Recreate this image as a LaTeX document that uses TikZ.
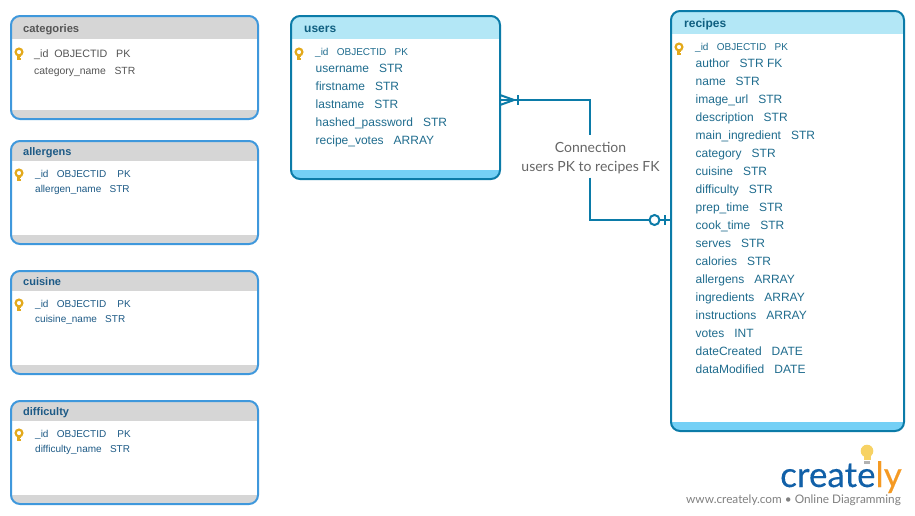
\documentclass[tikz,border=0pt]{standalone}
\usepackage{fontspec}
\setmainfont{Liberation Sans}
\newfontfamily\lato{Lato}
\newfontfamily\logofont[FakeBold=0.2]{Lato}
\definecolor{lightedge}{HTML}{3F98DC}
\definecolor{darkedge}{HTML}{0B7BA8}
\definecolor{greyband}{HTML}{D6D6D6}
\definecolor{cyanhead}{HTML}{B3E7F6}
\definecolor{cyanfoot}{HTML}{74D0F6}
\definecolor{headtext}{HTML}{0F5F80}
\definecolor{rowblue}{HTML}{1F6C8E}
\definecolor{greytext}{HTML}{555555}
\definecolor{navytext}{HTML}{1D5A86}
\definecolor{keygold}{HTML}{E3A91B}
\definecolor{logoblue}{HTML}{1160A8}
\definecolor{logoorange}{HTML}{F59A23}
\definecolor{bulbyellow}{HTML}{F7D264}
\definecolor{labelgrey}{HTML}{666666}
\newcommand{\keyicon}[2]{%
  \draw[keygold,line width=2.2pt] (#1,#2) circle (3.4);
  \fill[keygold] (#1-2,#2+3) rectangle (#1+2,#2+8);
  \fill[white] (#1+1,#2+5) rectangle (#1+2.2,#2+6);
}
\newcommand{\ertable}[9]{%
  \begin{scope}
    \clip[rounded corners=9] (#2,#3) rectangle (#4,#5);
    \fill[#8] (#2,#3) rectangle (#4,#6);
    \fill[#9] (#2,#7) rectangle (#4,#5);
  \end{scope}
}
\tikzset{
  x=1pt,y=-1pt,
  outlinebox/.style={draw=#1,line width=2pt,rounded corners=9,inner sep=0pt,outer sep=0pt,anchor=north west},
  titletext/.style={anchor=base west,inner sep=0pt,font=\bfseries\fontsize{12}{14}\selectfont},
  rowbig/.style={anchor=base west,inner sep=0pt,text=rowblue,font=\fontsize{12}{14}\selectfont},
  rowsmall/.style={anchor=base west,inner sep=0pt,text=rowblue,font=\fontsize{10}{12}\selectfont},
  leftrow/.style={anchor=base west,inner sep=0pt,text=navytext,font=\fontsize{10}{12}\selectfont},
  relation/.style={draw=darkedge,line width=2pt},
}
\begin{document}
\begin{tikzpicture}
\useasboundingbox (0,0) rectangle (915,515);
\fill[white] (0,0) rectangle (915,515);

% categories
\ertable{categories}{11}{16}{258}{119}{39}{110}{greyband}{greyband}
\node[outlinebox=lightedge,minimum width=247pt,minimum height=103pt] (categories) at (11,16) {};
\node[titletext,text=greytext,font=\bfseries\fontsize{11.2}{13}\selectfont] (categoriesT) at (23,32) {categories};
\keyicon{19}{52}
\node[leftrow,text=greytext,font=\fontsize{10.7}{13}\selectfont] (c1) at (34,57) {\_id~~OBJECTID~~~PK};
\node[leftrow,text=greytext,font=\fontsize{10.4}{13}\selectfont] (c2) at (34,74) {category\_name~~~STR};

% allergens
\ertable{allergens}{11}{141}{258}{244}{161}{235}{greyband}{greyband}
\node[outlinebox=lightedge,minimum width=247pt,minimum height=103pt] (allergens) at (11,141) {};
\node[titletext,text=navytext,font=\bfseries\fontsize{11}{13}\selectfont] (allergensT) at (23,155) {allergens};
\keyicon{19}{173}
\node[leftrow] (a1) at (35,177) {\_id~~~OBJECTID~~~~PK};
\node[leftrow] (a2) at (35,192) {allergen\_name~~~STR};

% cuisine
\ertable{cuisine}{11}{271}{258}{374}{291}{365}{greyband}{greyband}
\node[outlinebox=lightedge,minimum width=247pt,minimum height=103pt] (cuisine) at (11,271) {};
\node[titletext,text=navytext,font=\bfseries\fontsize{11}{13}\selectfont] (cuisineT) at (23,285) {cuisine};
\keyicon{19}{303}
\node[leftrow] (u1) at (35,307) {\_id~~~OBJECTID~~~~PK};
\node[leftrow] (u2) at (35,322) {cuisine\_name~~~STR};

% difficulty
\ertable{difficulty}{11}{401}{258}{504}{421}{495}{greyband}{greyband}
\node[outlinebox=lightedge,minimum width=247pt,minimum height=103pt] (difficulty) at (11,401) {};
\node[titletext,text=navytext,font=\bfseries\fontsize{11}{13}\selectfont] (difficultyT) at (23,415) {difficulty};
\keyicon{19}{433}
\node[leftrow] (d1) at (35,437) {\_id~~~OBJECTID~~~~PK};
\node[leftrow] (d2) at (35,452) {difficulty\_name~~~STR};

% users
\ertable{users}{291}{16}{500}{179}{39}{170}{cyanhead}{cyanfoot}
\node[outlinebox=darkedge,minimum width=209pt,minimum height=163pt] (users) at (291,16) {};
\node[titletext,text=headtext] (usersT) at (304,32) {users};
\keyicon{299}{52}
\node[rowsmall] (us0) at (315,55) {\_id~~~OBJECTID~~~PK};
\foreach \yy/\tt in {72/username~~~STR,90/firstname~~~STR,108/lastname~~~STR,126/hashed\_password~~~STR,144/recipe\_votes~~~ARRAY}
  \node[rowbig] at (315.5,\yy) {\tt};

% recipes
\ertable{recipes}{671}{11}{904}{431}{34}{422}{cyanhead}{cyanfoot}
\node[outlinebox=darkedge,minimum width=233pt,minimum height=420pt] (recipes) at (671,11) {};
\node[titletext,text=headtext] (recipesT) at (684,27) {recipes};
\keyicon{679}{47}
\node[rowsmall] (re0) at (695,50) {\_id~~~OBJECTID~~~PK};
\foreach \yy/\tt in {67/author~~~STR FK,85/name~~~STR,103/image\_url~~~STR,121/description~~~STR,139/main\_ingredient~~~STR,157/category~~~STR,175/cuisine~~~STR,193/difficulty~~~STR,211/prep\_time~~~STR,229/cook\_time~~~STR,247/serves~~~STR,265/calories~~~STR,283/allergens~~~ARRAY,301/ingredients~~~ARRAY,319/instructions~~~ARRAY,337/votes~~~INT,355/dateCreated~~~DATE,373/dataModified~~~DATE}
  \node[rowbig] at (695.5,\yy) {\tt};

% connector
\coordinate (usersPort) at (users.east |- 0,100);
\coordinate (recipesPort) at (recipes.west |- 0,220);
\coordinate (bendA) at (590,100);
\coordinate (bendB) at (590,220);
\node[inner sep=0pt,align=center,text=labelgrey,font=\lato\fontsize{14}{19}\selectfont] (connLabel) at (590.5,158.5) {Connection\\users PK to recipes FK};
\draw[relation] (usersPort) -- (bendA) -- ([yshift=7pt]connLabel.north -| bendA);
\draw[relation] ([yshift=-3pt]connLabel.south -| bendA) -- (bendB) -- (recipesPort);
\draw[relation] ([yshift=-5pt]usersPort) -- (514,100) -- ([yshift=5pt]usersPort);
\draw[relation] (517.5,95) -- (517.5,105);
\draw[relation] (664.5,215) -- (664.5,225);
\draw[relation,fill=white] (654.5,220) circle (5);

% logo
\node[anchor=base east,inner sep=0pt,font=\logofont\fontsize{35}{40}\selectfont] (logo) at (902,487) {\textcolor{logoblue}{create}\textcolor{logoorange}{ly}};
\fill[bulbyellow] (867,451) circle (6.3);
\fill[bulbyellow] (863.5,454) rectangle (870.5,460);
\fill[gray!60] (864,460.5) rectangle (870,463.5);
\node[anchor=base east,inner sep=0pt,text=gray,font=\lato\fontsize{11.8}{13}\selectfont] (tagline) at (901,503) {www.creately.com • Online Diagramming};
\end{tikzpicture}
\end{document}
